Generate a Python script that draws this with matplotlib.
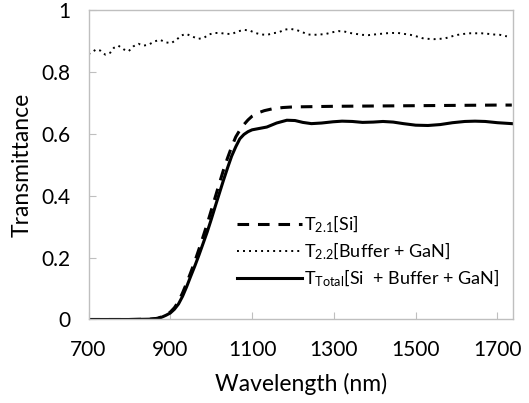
import matplotlib
matplotlib.use("Agg")
import matplotlib.pyplot as plt

plt.rcParams['font.family'] = ['Lato', 'DejaVu Sans']
plt.rcParams['mathtext.default'] = 'regular'

# T2.1 [Si]
wl_si = [700, 750, 800, 850, 870, 890, 900, 910, 920, 930, 940, 950, 960, 970, 980,
         990, 1000, 1010, 1020, 1030, 1040, 1050, 1060, 1070, 1080, 1090, 1100,
         1115, 1130, 1150, 1175, 1200, 1300, 1400, 1500, 1600, 1700, 1735]
t_si = [0, 0, 0, 0.001, 0.004, 0.015, 0.024, 0.038, 0.058, 0.086, 0.118, 0.152,
        0.188, 0.227, 0.267, 0.308, 0.352, 0.396, 0.440, 0.483, 0.522, 0.558,
        0.590, 0.612, 0.630, 0.645, 0.657, 0.668, 0.675, 0.681, 0.685, 0.687,
        0.689, 0.690, 0.691, 0.692, 0.693, 0.693]

# T2.2 [Buffer + GaN]
wl_bg = [700, 706, 719, 729, 741, 753, 762, 773, 786, 798, 810, 822, 835, 848, 862,
         875, 888, 902, 915, 927, 939, 953, 968, 982, 994, 1008, 1022, 1037, 1051,
         1065, 1080, 1094, 1108, 1123, 1137, 1151, 1165, 1180, 1194, 1208, 1224,
         1237, 1251, 1266, 1281, 1295, 1311, 1325, 1339, 1354, 1369, 1384, 1398,
         1413, 1427, 1443, 1457, 1472, 1487, 1502, 1517, 1531, 1545, 1559, 1573,
         1588, 1603, 1618, 1633, 1647, 1661, 1678, 1692, 1706, 1723]
t_bg = [0.858, 0.862, 0.873, 0.869, 0.856, 0.862, 0.878, 0.885, 0.873, 0.867, 0.883,
        0.891, 0.885, 0.889, 0.899, 0.904, 0.896, 0.893, 0.904, 0.918, 0.923, 0.915,
        0.907, 0.910, 0.921, 0.926, 0.926, 0.923, 0.923, 0.931, 0.936, 0.934, 0.926,
        0.921, 0.920, 0.925, 0.928, 0.937, 0.939, 0.936, 0.928, 0.921, 0.920, 0.921,
        0.923, 0.928, 0.932, 0.931, 0.926, 0.923, 0.920, 0.919, 0.921, 0.923, 0.925,
        0.926, 0.926, 0.923, 0.920, 0.915, 0.909, 0.907, 0.906, 0.907, 0.909, 0.915,
        0.920, 0.923, 0.925, 0.925, 0.925, 0.923, 0.921, 0.920, 0.915]

# TTotal [Si + Buffer + GaN]
wl_tot = [700, 750, 800, 850, 860, 870, 880, 890, 900, 910, 920, 930, 940, 950, 960,
          970, 980, 990, 1000, 1010, 1020, 1030, 1040, 1050, 1060, 1070, 1080, 1090,
          1100, 1120, 1136, 1160, 1185, 1205, 1224, 1245, 1270, 1298, 1320, 1345,
          1370, 1396, 1420, 1445, 1470, 1500, 1530, 1560, 1590, 1620, 1645, 1670,
          1700, 1735]
t_tot = [0, 0, 0, 0.001, 0.002, 0.004, 0.008, 0.014, 0.021, 0.033, 0.050, 0.075,
         0.106, 0.140, 0.173, 0.208, 0.245, 0.282, 0.323, 0.366, 0.408, 0.450, 0.490,
         0.528, 0.558, 0.584, 0.598, 0.607, 0.613, 0.618, 0.622, 0.635, 0.644, 0.643,
         0.637, 0.633, 0.635, 0.639, 0.641, 0.640, 0.637, 0.638, 0.640, 0.638, 0.633,
         0.628, 0.627, 0.630, 0.636, 0.640, 0.641, 0.640, 0.636, 0.633]

xticks = [700, 900, 1100, 1300, 1500, 1700]
yticks = [0, 0.2, 0.4, 0.6, 0.8, 1.0]
ytick_labels = ['0', '0.2', '0.4', '0.6', '0.8', '1']

fig = plt.figure(figsize=(5.29, 4.03), dpi=100)
ax = fig.add_axes([0.1673, 0.2072, 0.8025, 0.7678])

ax.plot(wl_si, t_si, color='black', lw=2.2, dashes=(3.8, 2.9),
        label=r'T$_{2.1}$[Si]')
ax.plot(wl_bg, t_bg, color='black', lw=1.4, dashes=(1, 2.1),
        label=r'T$_{2.2}$[Buffer + GaN]')
ax.plot(wl_tot, t_tot, color='black', lw=2.2,
        label=r'T$_{Total}$[Si  + Buffer + GaN]')

ax.set_xlim(700, 1738)
ax.set_ylim(0, 1)
ax.set_xticks(xticks)
ax.set_yticks(yticks)
ax.set_yticklabels(ytick_labels)

for s in ax.spines.values():
    s.set_color('#BFBFBF')
    s.set_linewidth(1)
ax.tick_params(direction='in', length=5, color='#BFBFBF', labelsize=15,
               labelcolor='black')
ax.tick_params(axis='x', pad=15)
ax.tick_params(axis='y', pad=13)

ax.set_xlabel('Wavelength (nm)', fontsize=16.5, labelpad=9)
ax.set_ylabel('Transmittance', fontsize=16.5, labelpad=6)

ax.legend(loc='lower right', bbox_to_anchor=(0.985, 0.075), frameon=False,
          fontsize=13, handlelength=3.6, handletextpad=0.1, labelspacing=0.3,
          borderaxespad=0)

fig.savefig('out.png', dpi=100)
